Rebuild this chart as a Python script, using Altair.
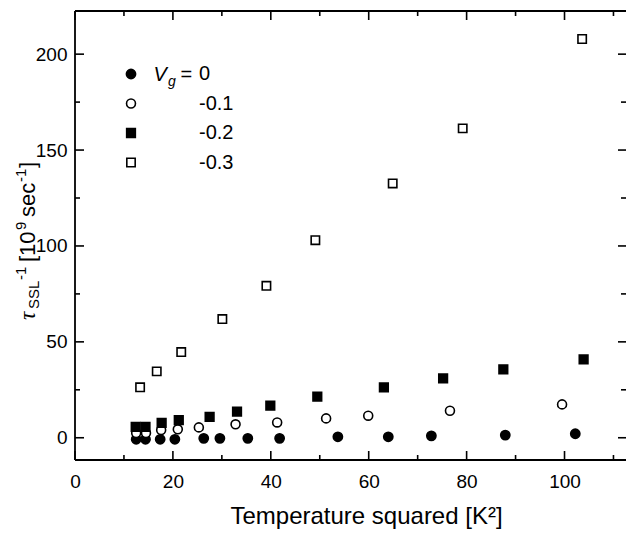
import altair as alt
import pandas as pd

# ---------------- data ----------------
series_labels = ["0", "-0.1", "-0.2", "-0.3"]

t2_vg0 = [12.5, 14.4, 17.4, 20.4, 26.3, 29.6, 35.3, 41.8, 53.7, 64.0, 72.8, 87.9, 102.2]
rate_vg0 = [-0.8, -0.8, -0.8, -0.8, -0.3, -0.3, -0.3, -0.3, 0.5, 0.5, 1.0, 1.4, 2.1]

t2_vg01 = [12.5, 14.5, 17.6, 21.0, 25.3, 32.8, 41.3, 51.3, 59.9, 76.6, 99.5]
rate_vg01 = [2.5, 2.5, 4.0, 4.4, 5.4, 7.0, 8.0, 10.1, 11.5, 14.1, 17.4]

t2_vg02 = [12.4, 14.4, 17.7, 21.2, 27.5, 33.1, 39.9, 49.5, 63.1, 75.2, 87.5, 103.9]
rate_vg02 = [5.7, 5.7, 7.8, 9.2, 10.9, 13.6, 16.7, 21.4, 26.3, 30.9, 35.7, 40.9]

t2_vg03 = [13.3, 16.7, 21.7, 30.1, 39.1, 49.1, 64.9, 79.2, 103.6]
rate_vg03 = [26.3, 34.6, 44.7, 61.9, 79.2, 103.0, 132.6, 161.3, 207.9]

x_major = [0, 20, 40, 60, 80, 100]
x_minor = [10, 30, 50, 70, 90, 110]
y_major = [0, 50, 100, 150, 200]
y_minor = [25, 75, 125, 175]

x_domain = [0, 112.56]
y_domain = [-11.6, 222.5]

# ---------------- build table ----------------
rows = []
for lab, xs, ys in zip(series_labels,
                       [t2_vg0, t2_vg01, t2_vg02, t2_vg03],
                       [rate_vg0, rate_vg01, rate_vg02, rate_vg03]):
    for a, b in zip(xs, ys):
        rows.append({"T2": a, "rate": b, "Vg": lab})
df = pd.DataFrame(rows)

W, H = 551, 449
FONT = "Liberation Sans"
LW = 1.8

xscale = alt.Scale(domain=x_domain, nice=False, zero=False)
yscale = alt.Scale(domain=y_domain, nice=False, zero=False)

x_axis = alt.Axis(values=x_major, ticks=False, domain=False, grid=False,
                  labelFontSize=19, labelPadding=12, labelFlush=False,
                  labelColor="black", labelFont=FONT,
                  title="Temperature squared [K²]", titleFontSize=24,
                  titleFont=FONT, titleFontWeight="normal", titleColor="black",
                  titleX=291, titleY=63, titleBaseline="alphabetic",
                  titleAlign="center")
y_axis = alt.Axis(values=y_major, ticks=False, domain=False, grid=False,
                  labelFontSize=19, labelPadding=8, labelColor="black",
                  labelFont=FONT, title=None)

legend = alt.Legend(
    orient="none", legendX=46, legendY=53, title=None, padding=0,
    labelFontSize=20, labelFont=FONT, labelOffset=58, rowPadding=9.5,
    symbolStrokeColor="black", symbolStrokeWidth=1.6, symbolOpacity=1,
    labelExpr="datum.label == '0' ? '\u00a00' : datum.label",
)

points = alt.Chart(df).mark_point(
    filled=True, stroke="black", strokeWidth=1.6, opacity=1
).encode(
    x=alt.X("T2:Q", scale=xscale, axis=x_axis, title="Temperature squared [K²]"),
    y=alt.Y("rate:Q", scale=yscale, axis=y_axis, title=None),
    shape=alt.Shape("Vg:N", scale=alt.Scale(domain=series_labels,
                    range=["circle", "circle", "square", "square"]), legend=legend),
    fill=alt.Fill("Vg:N", scale=alt.Scale(domain=series_labels,
                  range=["black", "white", "black", "white"]), legend=legend),
    stroke=alt.Stroke("Vg:N", scale=alt.Scale(domain=series_labels,
                      range=["black", "black", "black", "black"]), legend=legend),
    size=alt.Size("Vg:N", scale=alt.Scale(domain=series_labels,
                  range=[85, 70, 90, 72]), legend=legend),
)


def ticks(vals, axis, side, length):
    d = pd.DataFrame({"v": vals})
    base = alt.Chart(d).mark_rule(color="black", strokeWidth=1.6)
    if axis == "x":
        enc = dict(x=alt.X("v:Q", scale=xscale, axis=x_axis,
                           title="Temperature squared [K²]"))
        if side == "bottom":
            enc.update(y=alt.value(H), y2=alt.value(H - length))
        else:
            enc.update(y=alt.value(0), y2=alt.value(length))
    else:
        enc = dict(y=alt.Y("v:Q", scale=yscale, axis=y_axis, title=None))
        if side == "left":
            enc.update(x=alt.value(0), x2=alt.value(length))
        else:
            enc.update(x=alt.value(W), x2=alt.value(W - length))
    return base.encode(**enc)


tick_layers = [
    ticks(x_major, "x", "bottom", 9), ticks(x_minor, "x", "bottom", 5),
    ticks(x_major, "x", "top", 9), ticks(x_minor, "x", "top", 5),
    ticks(y_major, "y", "left", 9), ticks(y_minor, "y", "left", 5),
    ticks(y_major, "y", "right", 8), ticks(y_minor, "y", "right", 5),
]

# frame: left, top and bottom edges (the right edge lies outside the picture)
frame = [
    alt.Chart(alt.Data(values=[{}])).mark_rule(color="black", strokeWidth=LW)
    .encode(x=alt.value(0), y=alt.value(0), y2=alt.value(H)),
    alt.Chart(alt.Data(values=[{}])).mark_rule(color="black", strokeWidth=LW)
    .encode(x=alt.value(0), x2=alt.value(W), y=alt.value(0)),
    alt.Chart(alt.Data(values=[{}])).mark_rule(color="black", strokeWidth=LW)
    .encode(x=alt.value(0), x2=alt.value(W), y=alt.value(H)),
]


def label(text, x, y, size, angle=0, italic=False, font=FONT):
    return alt.Chart(alt.Data(values=[{"t": text}])).mark_text(
        align="left", baseline="alphabetic", fontSize=size, angle=angle,
        font=font, fontStyle="italic" if italic else "normal", color="black"
    ).encode(text="t:N", x=alt.value(x), y=alt.value(y))


# y-axis title pieces:  tau_SSL^-1 [10^9 sec^-1]
ytitle = [
    label("τ", -40.5, 309, 23, angle=270, italic=True, font="Liberation Serif"),
    label("SSL", -36.5, 298, 15, angle=270),
    label("-1", -49.5, 269, 15, angle=270),
    label("[10", -40.5, 251, 22, angle=270),
    label("9", -49.5, 219, 15, angle=270),
    label("sec", -40.5, 206, 22, angle=270),
    label("-1", -49.5, 171, 15, angle=270),
    label("]", -40.5, 157, 22, angle=270),
]

# legend heading  V_g =
vg = [
    label("V", 78.5, 70, 20, italic=True),
    label("g", 93, 75, 14, italic=True),
    label("=", 105.5, 70, 20),
]

chart = alt.layer(points, *frame, *tick_layers, *ytitle, *vg).properties(
    width=W, height=H,
    autosize=alt.AutoSizeParams(type="none"),
    padding={"left": 67, "top": 3, "right": 0, "bottom": 70},
).configure(font=FONT).configure_view(
    stroke="transparent"
)

chart.save("out.html", embed_options={"renderer": "svg", "actions": False})
